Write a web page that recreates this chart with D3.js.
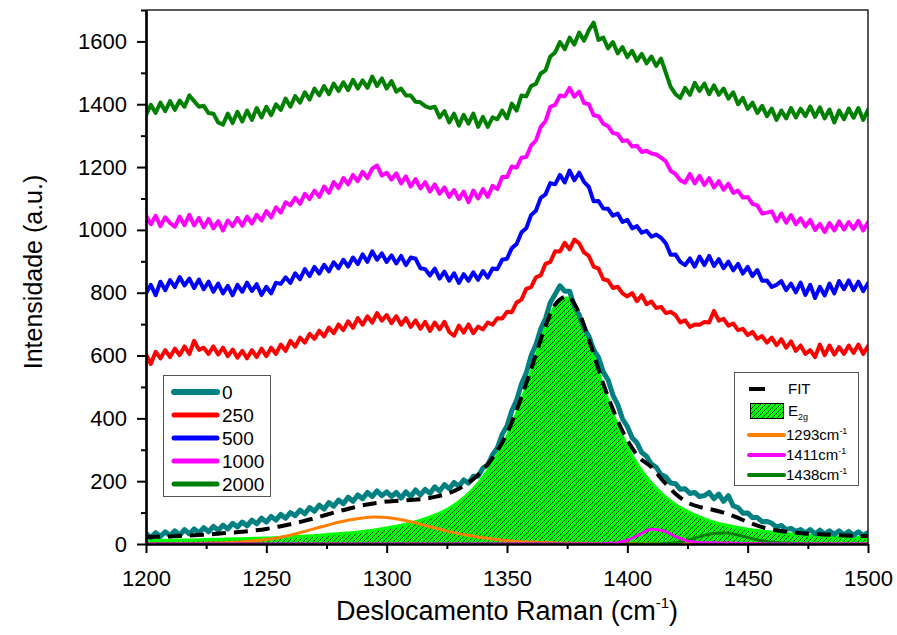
<!DOCTYPE html>
<html>
<head>
<meta charset="utf-8">
<script src="https://cdn.jsdelivr.net/npm/d3@7"></script>
<style>
  body { margin: 0; background: #fff; }
  svg { display: block; }
  text { font-family: "Liberation Sans", Arial, Helvetica, sans-serif; fill: #000; }
</style>
</head>
<body>
<svg id="chart" width="897" height="635"></svg>
<script>
// Raman spectra (intensity, a.u.) sampled every 2 cm-1 from 1200 to 1500 cm-1
const shiftStart = 1200;
const shiftStep = 2;

const spectrum0 = [
  34,20,36,24,39,26,42,28,46,32,
  48,36,52,39,56,44,60,48,66,54,
  70,58,76,64,82,70,88,76,94,82,
  100,90,108,96,116,104,124,111,132,120,
  140,128,149,136,156,144,164,151,169,154,
  166,151,164,146,166,151,172,156,174,161,
  182,168,189,176,196,184,204,194,216,216,
  242,252,284,306,349,376,424,458,509,544,
  599,634,684,718,769,795,822,805,805,757,
  729,686,662,618,594,548,522,474,444,398,
  374,338,322,291,279,254,244,221,214,194,
  192,174,176,161,164,151,154,164,144,159,
  136,154,121,116,98,99,84,84,71,72,
  66,54,59,46,50,40,46,34,46,32,
  44,31,42,30,42,29,40,28,39,27,
  36
];

const spectrum250 = [
  604,573,612,591,617,595,622,601,629,605,
  647,618,625,605,629,603,625,598,619,593,
  615,591,617,595,622,598,625,605,635,615,
  647,628,657,641,669,653,679,661,689,671,
  699,681,709,688,719,698,725,705,735,711,
  729,703,725,698,719,691,712,685,707,678,
  705,683,707,675,663,695,673,699,671,692,
  683,705,698,719,718,739,738,769,778,812,
  818,849,855,892,898,932,931,959,938,969,
  957,928,917,883,877,843,839,815,819,798,
  788,799,773,792,763,772,751,755,735,739,
  729,705,712,691,699,698,707,705,742,711,
  717,695,702,681,685,665,675,653,662,641,
  657,633,652,625,645,615,632,605,617,595,
  635,601,632,603,627,605,632,608,635,605,
  630
];

const spectrum500 = [
  798,825,792,835,808,840,818,850,823,845,
  815,842,811,835,803,829,798,822,792,825,
  803,832,805,827,793,819,798,832,828,849,
  831,862,843,875,853,882,861,889,868,897,
  878,905,883,912,891,922,898,932,905,925,
  898,919,893,917,888,912,908,878,875,855,
  877,845,867,838,862,831,859,838,865,841,
  869,848,877,875,905,908,942,955,992,1005,
  1047,1061,1102,1113,1149,1145,1175,1151,1189,1158,
  1182,1153,1137,1091,1092,1068,1067,1045,1052,1025,
  1032,1005,1012,991,997,978,985,975,957,921,
  922,898,888,909,883,915,888,917,885,907,
  878,899,871,892,861,882,853,872,838,839,
  818,825,837,808,829,801,832,793,825,783,
  819,791,829,798,837,811,839,808,835,805,
  830
];

const spectrum1000 = [
  1046,1018,1045,1012,1040,1022,1010,1042,1015,1048,
  1014,1038,1008,1035,1005,1028,998,1030,1012,1038,
  1013,1042,1020,1048,1030,1060,1040,1072,1055,1088,
  1078,1102,1083,1115,1098,1125,1105,1138,1118,1152,
  1133,1165,1145,1175,1155,1185,1165,1195,1205,1173,
  1182,1160,1180,1148,1170,1138,1162,1132,1152,1122,
  1145,1115,1135,1105,1127,1098,1122,1088,1125,1100,
  1130,1105,1140,1130,1168,1168,1202,1198,1230,1232,
  1268,1284,1328,1346,1392,1398,1428,1425,1452,1424,
  1440,1404,1400,1365,1362,1338,1330,1308,1305,1283,
  1285,1265,1268,1248,1252,1243,1240,1230,1218,1188,
  1178,1158,1150,1178,1148,1172,1143,1165,1135,1155,
  1128,1147,1118,1125,1103,1105,1083,1078,1052,1055,
  1059,1028,1052,1023,1047,1018,1037,1011,1032,1000,
  1019,993,1022,998,1027,1001,1025,1003,1029,998,
  1024
];

const spectrum2000 = [
  1365,1398,1372,1405,1378,1410,1382,1412,1392,1428,
  1410,1392,1395,1372,1370,1342,1335,1370,1340,1376,
  1345,1380,1350,1388,1358,1392,1365,1400,1382,1418,
  1392,1426,1405,1438,1415,1450,1428,1458,1432,1466,
  1442,1470,1445,1478,1450,1476,1452,1488,1458,1482,
  1450,1474,1440,1450,1428,1428,1408,1406,1394,1388,
  1392,1358,1378,1342,1370,1332,1366,1338,1370,1328,
  1360,1328,1358,1352,1380,1355,1402,1380,1428,1425,
  1458,1465,1498,1508,1552,1565,1598,1575,1612,1590,
  1628,1602,1636,1660,1605,1612,1578,1598,1562,1582,
  1550,1570,1538,1560,1530,1552,1522,1545,1500,1455,
  1432,1420,1452,1430,1468,1442,1466,1432,1460,1430,
  1450,1418,1438,1400,1420,1385,1405,1372,1395,1362,
  1386,1350,1380,1355,1388,1358,1386,1362,1393,1360,
  1390,1355,1383,1342,1380,1352,1386,1357,1388,1350,
  1382
];

const doseLabels = ["0", "250", "500", "1000", "2000"];
const doseColors = ["#008080", "#ff0000", "#0000ff", "#ff00ff", "#008000"];

// Peak fit of the unirradiated spectrum, sampled every 5 cm-1 from 1200 to 1500 cm-1
const fitStart = 1200;
const fitStep = 5;

const fitTotal = [
  22,23,24,26,28,30,33,36,39,43,48,55,63,72,82,93,104,114,123,130,
  135,138,140,143,150,160,176,200,236,285,352,446,556,672,762,788,735,628,510,410,
  330,275,245,200,160,132,118,110,100,86,70,56,46,40,36,33,31,29,27,26,
  25
];

const bandE2g = [
  11,11.5,12,12.5,13,14,15,16,17,18,19,21,23,25,27,30,33,36,40,45,
  51,58,67,78,92,110,135,168,212,268,342,436,548,667,758,783,728,620,500,395,
  310,244,194,156,126,104,86,72,62,54,47,42,38,34,31,28,26,24,22,21,
  20
];

const band1293 = [
  0,0,0.5,1,1.5,2.5,3.5,5,7,10,14,20,28,38,49,59,69,77,83,86,
  84,79,71,61,51,41,33,26,20,15,11,8,6,4.5,3.5,2.5,2,1.5,1,1,
  1,1,1,0.5,0.5,0.5,0.5,0.5,0.5,0.5,0.5,0,0,0,0,0,0,0,0,0,
  0
];

const band1411 = [
  0,0,0,0,0,0,0,0,0,0,0,0,0,0,0,0,0,0,0,0,
  0,0,0,0,0,0,0,0,0,0,0,0,0,0,0,0,0,0,1,3,
  12,30,47,42,24,10,5,4,3,2,1,0.5,0,0,0,0,0,0,0,0,
  0
];

const band1438 = [
  0,0,0,0,0,0,0,0,0,0,0,0,0,0,0,0,0,0,0,0,
  0,0,0,0,0,0,0,0,0,0,0,0,0,0,0,0,0,0,0,0,
  0,0,0,1,4,12,24,33,35,30,21,12,6,3,1.5,0.5,0,0,0,0,
  0
];

const bandLabels = ["1293", "1411", "1438"];
const bandColors = ["#ff8000", "#ff00ff", "#008000"];

const xTicks = [1200, 1250, 1300, 1350, 1400, 1450, 1500];
const xMinorTicks = [1225, 1275, 1325, 1375, 1425, 1475];
const yTicks = [0, 200, 400, 600, 800, 1000, 1200, 1400, 1600];
const yMinorTicks = [100, 300, 500, 700, 900, 1100, 1300, 1500, 1700];

// ---------------------------------------------------------------------------
const svg = d3.select("#chart");
const plot = { left: 146, right: 868, top: 10, bottom: 544 };

const x = d3.scaleLinear().domain([1200, 1500]).range([plot.left, plot.right]);
const y = d3.scaleLinear().domain([0, 1700]).range([plot.bottom, plot.top]);

const defs = svg.append("defs");
const hatch = defs.append("pattern")
  .attr("id", "hatch")
  .attr("patternUnits", "userSpaceOnUse")
  .attr("width", 5).attr("height", 5);
hatch.append("rect").attr("width", 5).attr("height", 5).attr("fill", "#00ff00");
hatch.append("path")
  .attr("d", "M-1,1 l2,-2 M0,5 l5,-5 M4,6 l2,-2")
  .attr("stroke", "#000").attr("stroke-width", 0.8);

defs.append("clipPath").attr("id", "plot-clip")
  .append("rect")
  .attr("x", plot.left).attr("y", plot.top)
  .attr("width", plot.right - plot.left)
  .attr("height", plot.bottom - plot.top);

const shiftAt = i => shiftStart + i * shiftStep;
const fitAt = i => fitStart + i * fitStep;

const spectrumLine = d3.line()
  .x((d, i) => x(shiftAt(i)))
  .y(d => y(d))
  .curve(d3.curveLinear);

const fitLine = d3.line()
  .x((d, i) => x(fitAt(i)))
  .y(d => y(d))
  .curve(d3.curveMonotoneX);

const fitArea = d3.area()
  .x((d, i) => x(fitAt(i)))
  .y0(y(0))
  .y1(d => y(d))
  .curve(d3.curveMonotoneX);

const g = svg.append("g").attr("clip-path", "url(#plot-clip)");

// E2g band: hatched green area with a bright outline
g.append("path").datum(bandE2g)
  .attr("d", fitArea)
  .attr("fill", "url(#hatch)");
g.append("path").datum(bandE2g)
  .attr("d", fitLine)
  .attr("fill", "none")
  .attr("stroke", "#00ff00")
  .attr("stroke-width", 3);

// Secondary bands
[band1293, band1438, band1411].forEach((band, k) => {
  const color = [bandColors[0], bandColors[2], bandColors[1]][k];
  g.append("path").datum(band)
    .attr("d", fitLine)
    .attr("fill", "none")
    .attr("stroke", color)
    .attr("stroke-width", 3)
    .attr("stroke-linejoin", "round");
});

// Unirradiated spectrum
g.append("path").datum(spectrum0)
  .attr("d", spectrumLine)
  .attr("fill", "none")
  .attr("stroke", doseColors[0])
  .attr("stroke-width", 5)
  .attr("stroke-linejoin", "round")
  .attr("stroke-linecap", "round");

// Cumulative fit
g.append("path").datum(fitTotal)
  .attr("d", fitLine)
  .attr("fill", "none")
  .attr("stroke", "#000")
  .attr("stroke-width", 4)
  .attr("stroke-dasharray", "14,8");

// Irradiated spectra
[spectrum250, spectrum500, spectrum1000, spectrum2000].forEach((s, k) => {
  g.append("path").datum(s)
    .attr("d", spectrumLine)
    .attr("fill", "none")
    .attr("stroke", doseColors[k + 1])
    .attr("stroke-width", 4)
    .attr("stroke-linejoin", "round")
    .attr("stroke-linecap", "round");
});

// Frame (top and right)
svg.append("path")
  .attr("d", `M${plot.left},${plot.top}H${plot.right}V${plot.bottom}`)
  .attr("fill", "none")
  .attr("stroke", "#222")
  .attr("stroke-width", 1.5);

// Axes
function styleAxis(sel, fontSize) {
  sel.select(".domain").attr("stroke", "#000").attr("stroke-width", 2.2);
  sel.selectAll(".tick line").attr("stroke", "#000").attr("stroke-width", 2);
  sel.selectAll(".tick text")
    .attr("font-size", fontSize)
    .attr("font-family", '"Liberation Sans", Arial, sans-serif')
    .attr("fill", "#000");
}

const xAxisMinor = svg.append("g")
  .attr("transform", `translate(0,${plot.bottom})`)
  .call(d3.axisBottom(x).tickValues(xMinorTicks).tickSize(5).tickSizeOuter(0).tickFormat(""));
styleAxis(xAxisMinor, 0);

const xAxis = svg.append("g")
  .attr("transform", `translate(0,${plot.bottom})`)
  .call(d3.axisBottom(x).tickValues(xTicks).tickSize(9).tickSizeOuter(0)
    .tickPadding(17).tickFormat(d3.format("d")));
styleAxis(xAxis, 22);

const yAxisMinor = svg.append("g")
  .attr("transform", `translate(${plot.left},0)`)
  .call(d3.axisLeft(y).tickValues(yMinorTicks).tickSize(5).tickSizeOuter(0).tickFormat(""));
styleAxis(yAxisMinor, 0);

const yAxis = svg.append("g")
  .attr("transform", `translate(${plot.left},0)`)
  .call(d3.axisLeft(y).tickValues(yTicks).tickSize(9).tickSizeOuter(0)
    .tickPadding(10).tickFormat(d3.format("d")));
styleAxis(yAxis, 22);

// Axis titles
svg.append("text")
  .attr("transform", "translate(42,272) rotate(-90)")
  .attr("text-anchor", "middle")
  .attr("font-size", 25)
  .text("Intensidade (a.u.)");

const xTitle = svg.append("text")
  .attr("x", 507).attr("y", 620)
  .attr("text-anchor", "middle")
  .attr("font-size", 27);
xTitle.append("tspan").text("Deslocamento Raman (cm");
xTitle.append("tspan").attr("font-size", 15).attr("dy", -12).text("-1");
xTitle.append("tspan").attr("dy", 12).text(")");

// Dose legend
const lg1 = svg.append("g");
lg1.append("rect")
  .attr("x", 163.5).attr("y", 375.5).attr("width", 107).attr("height", 121)
  .attr("fill", "#fff").attr("stroke", "#555").attr("stroke-width", 1);
doseLabels.forEach((lab, i) => {
  const yy = 392 + i * 23;
  lg1.append("line")
    .attr("x1", 174).attr("x2", 217).attr("y1", yy).attr("y2", yy)
    .attr("stroke", doseColors[i])
    .attr("stroke-width", i === 0 ? 6 : 5)
    .attr("stroke-linecap", "round");
  lg1.append("text")
    .attr("x", 222).attr("y", yy).attr("dy", "0.36em")
    .attr("font-size", 19)
    .text(lab);
});

// Fit legend
const lg2 = svg.append("g");
lg2.append("rect")
  .attr("x", 734.5).attr("y", 372.5).attr("width", 124).attr("height", 113)
  .attr("fill", "#fff").attr("stroke", "#555").attr("stroke-width", 1);

lg2.append("line")
  .attr("x1", 749).attr("x2", 765).attr("y1", 389).attr("y2", 389)
  .attr("stroke", "#000").attr("stroke-width", 4);
lg2.append("text")
  .attr("x", 788).attr("y", 389).attr("dy", "0.36em")
  .attr("font-size", 15).text("FIT");

lg2.append("rect")
  .attr("x", 750.5).attr("y", 403.5).attr("width", 33).attr("height", 15)
  .attr("fill", "url(#hatch)").attr("stroke", "#000").attr("stroke-width", 1);
const e2gText = lg2.append("text")
  .attr("x", 788).attr("y", 411).attr("dy", "0.36em")
  .attr("font-size", 15);
e2gText.append("tspan").text("E");
e2gText.append("tspan").attr("font-size", 9).attr("dy", 4).text("2g");

bandLabels.forEach((lab, i) => {
  const yy = 435 + i * 20;
  lg2.append("line")
    .attr("x1", 749).attr("x2", 784).attr("y1", yy).attr("y2", yy)
    .attr("stroke", bandColors[i]).attr("stroke-width", 4)
    .attr("stroke-linecap", "round");
  const t = lg2.append("text")
    .attr("x", 786).attr("y", yy).attr("dy", "0.36em")
    .attr("font-size", 15);
  t.append("tspan").text(lab + "cm");
  t.append("tspan").attr("font-size", 9).attr("dy", -6).text("-1");
});
</script>
</body>
</html>
